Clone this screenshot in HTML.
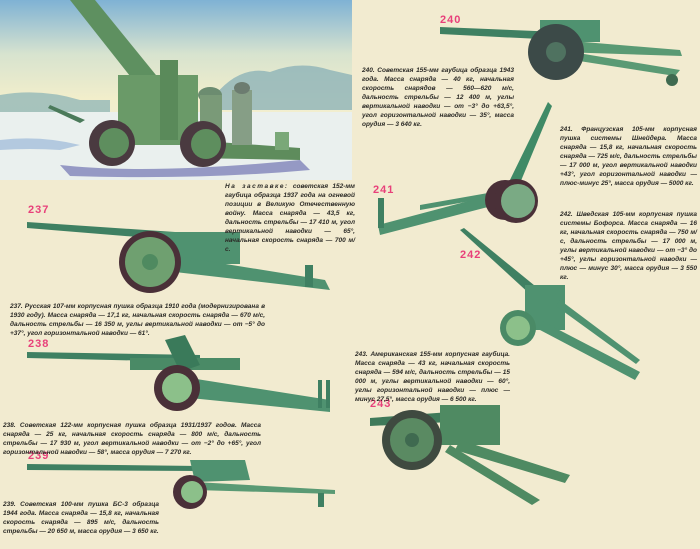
<!DOCTYPE html>
<html><head><meta charset="utf-8"><style>
html,body{margin:0;padding:0}
body{width:700px;height:549px;position:relative;overflow:hidden;background:#f2ebd0;font-family:"Liberation Sans","DejaVu Sans",sans-serif}
.t{position:absolute;font-size:6.5px;line-height:9px;font-style:italic;font-weight:bold;color:#2b2a26;text-align:justify;letter-spacing:0}
.n{position:absolute;font-size:11px;font-weight:bold;color:#e8407a;font-family:"Liberation Sans",sans-serif;letter-spacing:1px}
svg{position:absolute;left:0;top:0}
</style></head><body>
<svg width="700" height="549" viewBox="0 0 700 549">
<defs>
<linearGradient id="sky" x1="0" y1="0" x2="0" y2="1">
<stop offset="0" stop-color="#7fb2d4"/><stop offset="0.3" stop-color="#d7e3cf"/><stop offset="0.55" stop-color="#f2eecb"/><stop offset="1" stop-color="#eef0e4"/>
</linearGradient>
</defs>
<path d="M0,0H352V180H300L280,172H0Z" fill="url(#sky)"/>
<path d="M215,95 Q240,65 270,72 Q300,60 330,70 L352,75 V110 H215Z" fill="#8db3b8" opacity="0.8"/>
<path d="M0,95 Q40,88 80,100 L110,100 V112 H0Z" fill="#93b8b8" opacity="0.8"/>
<path d="M0,112 H352 V180 H0Z" fill="#eaf0ee"/>
<path d="M60,165 Q150,175 300,160 L310,170 Q200,180 70,176Z" fill="#5c5fa8" opacity="0.6"/>
<path d="M0,140 Q40,135 80,145 L60,150 Q30,148 0,150Z" fill="#9bb8d8" opacity="0.7"/>
<path d="M50,105 L85,120 L80,123 L48,108Z" fill="#4b7a5a"/>
<path d="M70,0 L95,0 L160,80 L145,95Z" fill="#5e9060"/>
<rect x="118" y="75" width="80" height="70" fill="#6a9a68"/>
<rect x="160" y="60" width="18" height="80" fill="#5a8a5a"/>
<path d="M190,140 L300,148 L300,160 L190,158Z" fill="#5e8c5c"/>
<rect x="275" y="132" width="14" height="18" fill="#7aa878"/>
<ellipse cx="210" cy="95" rx="12" ry="8" fill="#6c8c70"/>
<rect x="200" y="95" width="22" height="50" fill="#7a9a78"/>
<rect x="232" y="90" width="20" height="55" fill="#869e86"/>
<ellipse cx="242" cy="88" rx="8" ry="6" fill="#6c7c70"/>
<circle cx="112" cy="143" r="23" fill="#4a3a40"/><circle cx="114" cy="143" r="15" fill="#5e8e5e"/>
<circle cx="203" cy="144" r="23" fill="#4a3a40"/><circle cx="206" cy="144" r="15" fill="#5e8e5e"/>

<path d="M27,222 L175,232 L175,240 L27,228Z" fill="#3f8062"/>
<rect x="150" y="232" width="90" height="32" fill="#4f9270"/>
<path d="M170,255 L325,280 L330,290 L175,272Z" fill="#4f9270"/>
<rect x="305" y="265" width="8" height="22" fill="#3f8062"/>
<circle cx="150" cy="262" r="31" fill="#4a3038"/><circle cx="150" cy="262" r="25" fill="#6fa070"/><circle cx="150" cy="262" r="8" fill="#4f8a60"/>

<path d="M27,352 L200,355 L200,362 L27,358Z" fill="#3f8062"/>
<rect x="130" y="358" width="110" height="12" fill="#4a8a66"/>
<path d="M165,340 L185,335 L200,365 L180,372Z" fill="#3a7a5a"/>
<path d="M190,378 L330,400 L330,412 L190,398Z" fill="#4f9270"/>
<rect x="318" y="380" width="4" height="28" fill="#3f8062"/><rect x="326" y="380" width="4" height="28" fill="#3f8062"/>
<circle cx="177" cy="388" r="23" fill="#4a3038"/><circle cx="177" cy="388" r="15" fill="#8cc08a"/>

<path d="M27,464 L200,466 L200,471 L27,470Z" fill="#3f8062"/>
<path d="M190,460 L245,460 L250,480 L195,482Z" fill="#4f9270"/>
<path d="M195,482 L335,490 L335,494 L195,490Z" fill="#5a9a74"/>
<circle cx="190" cy="492" r="17" fill="#4a3038"/><circle cx="192" cy="492" r="11" fill="#8cc08a"/>
<rect x="318" y="493" width="6" height="14" fill="#3f8062"/>

<path d="M440,27 L560,32 L560,40 L440,34Z" fill="#3f8062"/>
<rect x="540" y="20" width="60" height="22" fill="#4f9270"/>
<path d="M560,40 L680,50 L682,56 L560,52Z" fill="#5a9a74"/>
<path d="M560,50 L680,70 L675,76 L560,58Z" fill="#5a9a74"/>
<circle cx="672" cy="80" r="6" fill="#3f6a50"/>
<circle cx="556" cy="52" r="28" fill="#3c4a48"/><circle cx="556" cy="52" r="10" fill="#4f7260"/>

<path d="M548,102 L552,106 L518,188 L508,184Z" fill="#3f8a66"/>
<path d="M378,225 L510,190 L515,200 L380,235Z" fill="#4f9270"/>
<path d="M420,205 L505,190 L505,195 L420,210Z" fill="#4f9270"/>
<rect x="378" y="198" width="6" height="30" fill="#3f8062"/>
<circle cx="505" cy="200" r="20" fill="#4a3038"/>
<circle cx="516" cy="201" r="22" fill="#4a3038"/><circle cx="518" cy="201" r="17" fill="#7aaa84"/>

<path d="M460,230 L464,228 L540,290 L532,296Z" fill="#3f8062"/>
<rect x="525" y="285" width="40" height="45" fill="#4f9270"/>
<path d="M540,320 L640,372 L635,380 L540,330Z" fill="#4f9270"/>
<path d="M560,300 L640,360 L636,364 L556,306Z" fill="#4f9270"/>
<circle cx="518" cy="328" r="18" fill="#4a8a66"/><circle cx="518" cy="328" r="12" fill="#8cc08a"/>

<path d="M370,418 L450,412 L450,422 L370,426Z" fill="#3f7a5a"/>
<rect x="440" y="405" width="60" height="40" fill="#4f8a62"/>
<path d="M460,440 L570,475 L565,483 L455,450Z" fill="#4f8a62"/>
<path d="M450,445 L540,500 L532,505 L445,452Z" fill="#4f8a62"/>
<circle cx="412" cy="440" r="30" fill="#3f4a40"/><circle cx="412" cy="440" r="22" fill="#5a8a62"/><circle cx="412" cy="440" r="7" fill="#3f6a50"/>
</svg>

<div class="n" style="left:440px;top:14px">240</div>
<div class="n" style="left:28px;top:204px">237</div>
<div class="n" style="left:28px;top:338px">238</div>
<div class="n" style="left:28px;top:450px">239</div>
<div class="n" style="left:373px;top:184px">241</div>
<div class="n" style="left:460px;top:249px">242</div>
<div class="n" style="left:370px;top:398px">243</div>

<div class="t" style="left:225px;top:182px;width:130px"><span style="letter-spacing:1.5px">На заставке:</span> советская 152-мм гаубица образца 1937 года на огневой позиции в Великую Отечественную войну. Масса снаряда — 43,5 кг, дальность стрельбы — 17 410 м, угол вертикальной наводки — 65°, начальная скорость снаряда — 700 м/с.</div>
<div class="t" style="left:10px;top:302px;width:255px">237. Русская 107-мм корпусная пушка образца 1910 года (модернизирована в 1930 году). Масса снаряда — 17,1 кг, начальная скорость снаряда — 670 м/с, дальность стрельбы — 16 350 м, углы вертикальной наводки — от −5° до +37°, угол горизонтальной наводки — 61°.</div>
<div class="t" style="left:3px;top:421px;width:258px">238. Советская 122-мм корпусная пушка образца 1931/1937 годов. Масса снаряда — 25 кг, начальная скорость снаряда — 800 м/с, дальность стрельбы — 17 930 м, угол вертикальной наводки — от −2° до +65°, угол горизонтальной наводки — 58°, масса орудия — 7 270 кг.</div>
<div class="t" style="left:3px;top:500px;width:156px">239. Советская 100-мм пушка БС-3 образца 1944 года. Масса снаряда — 15,8 кг, начальная скорость снаряда — 895 м/с, дальность стрельбы — 20 650 м, масса орудия — 3 650 кг.</div>
<div class="t" style="left:362px;top:66px;width:152px">240. Советская 155-мм гаубица образца 1943 года. Масса снаряда — 40 кг, начальная скорость снарядов — 560—620 м/с, дальность стрельбы — 12 400 м, углы вертикальной наводки — от −3° до +63,5°, угол горизонтальной наводки — 35°, масса орудия — 3 640 кг.</div>
<div class="t" style="left:560px;top:125px;width:137px">241. Французская 105-мм корпусная пушка системы Шнейдера. Масса снаряда — 15,8 кг, начальная скорость снаряда — 725 м/с, дальность стрельбы — 17 000 м, угол вертикальной наводки +43°, угол горизонтальной наводки — плюс-минус 25°, масса орудия — 5000 кг.</div>
<div class="t" style="left:560px;top:210px;width:137px">242. Шведская 105-мм корпусная пушка системы Бофорса. Масса снаряда — 16 кг, начальная скорость снаряда — 750 м/с, дальность стрельбы — 17 000 м, углы вертикальной наводки — от −3° до +45°, углы горизонтальной наводки — плюс — минус 30°, масса орудия — 3 550 кг.</div>
<div class="t" style="left:355px;top:350px;width:155px">243. Американская 155-мм корпусная гаубица. Масса снаряда — 43 кг, начальная скорость снаряда — 594 м/с, дальность стрельбы — 15 000 м, углы вертикальной наводки — 60°, углы горизонтальной наводки — плюс — минус 27,5°, масса орудия — 6 500 кг.</div>
</body></html>
